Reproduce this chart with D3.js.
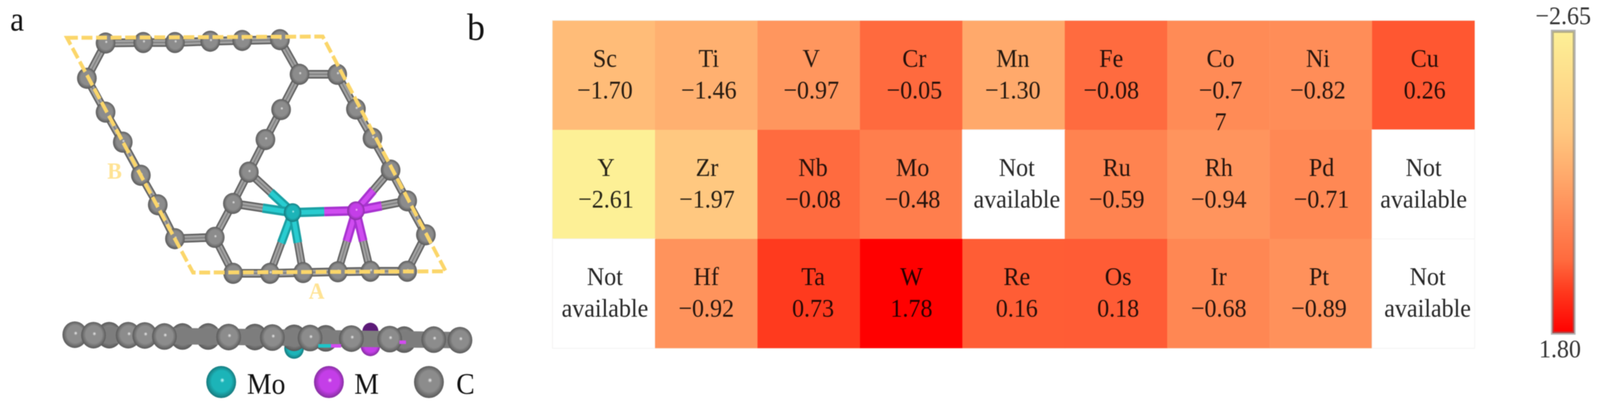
<!DOCTYPE html>
<html>
<head>
<meta charset="utf-8">
<script src="https://cdn.jsdelivr.net/npm/d3@7"></script>
<style>
  html, body { margin: 0; padding: 0; background: #fff; overflow: hidden; }
  svg { display: block; width: 100vw; height: 100vh; filter: blur(1.1px); }
  text { font-family: "Liberation Serif", serif; }
</style>
</head>
<body>
<div id="wrapper"></div>
<script>
// Heatmap data (row by row)
const elements = [
  "Sc", "Ti", "V", "Cr", "Mn", "Fe", "Co", "Ni", "Cu",
  "Y", "Zr", "Nb", "Mo", null, "Ru", "Rh", "Pd", null,
  null, "Hf", "Ta", "W", "Re", "Os", "Ir", "Pt", null
]
const values = [
  -1.70, -1.46, -0.97, -0.05, -1.30, -0.08, -0.77, -0.82, 0.26,
  -2.61, -1.97, -0.08, -0.48, null, -0.59, -0.94, -0.71, null,
  null, -0.92, 0.73, 1.78, 0.16, 0.18, -0.68, -0.89, null
]
const colorTicks = [-2.65, 1.80]

// Structure data in its own 1568 x 1568 units
const carbonX = [350, 475, 580, 697, 803, 928, 993, 1118, 1180, 1235, 1295, 1350, 1412, 1350, 1228, 1120, 1005, 895, 773, 712, 580, 523, 467, 407, 350, 288, 932, 880, 825, 772]
const carbonY = [165, 163, 163, 158, 155, 152, 285, 285, 418, 530, 652, 770, 900, 1040, 1040, 1042, 1045, 1048, 1048, 910, 915, 785, 672, 545, 430, 300, 420, 535, 660, 780]
const carbonBonds = [
  [0, 1], [1, 2], [2, 3], [3, 4], [4, 5], [5, 6], [6, 7], [7, 8], [8, 9], [9, 10], [10, 11], [11, 12], [12, 13],
  [13, 14], [14, 15], [15, 16], [16, 17], [17, 18], [18, 19], [19, 20], [20, 21], [21, 22], [22, 23], [23, 24],
  [24, 25], [25, 0], [6, 26], [26, 27], [27, 28], [28, 29], [29, 19]
]
const metalNames = ["Mo", "M"]
const metalX = [970, 1180]
const metalY = [815, 808]
const moNeighbours = [28, 29, 17, 16]
const mNeighbours = [10, 11, 15, 14]
const latticeX = [222, 1070, 1478, 640]
const latticeY = [145, 140, 1040, 1045]
const latticeLabels = ["B", "A"]
const latticeLabelX = [380, 1050]
const latticeLabelY = [685, 1145]

// Side view
const sideBackX = [362, 605, 690, 845, 975, 1080, 1340]
const sideBackY = [1285, 1290, 1290, 1292, 1295, 1297, 1302]
const sideFrontX = [248, 310, 425, 480, 545, 758, 903, 1028, 1165, 1292, 1438, 1525]
const sideFrontY = [1283, 1285, 1285, 1286, 1290, 1292, 1294, 1296, 1298, 1300, 1302, 1304]
const sideBondStart = [1055, 1097, 1324]
const sideBondEnd = [1097, 1131, 1346]
const sideBondY = [1326, 1326, 1312]
const sideBondColors = ["#1fc4c8", "#d24cf0", "#d24cf0"]

const legendNames = ["Mo", "M", "C"]

async function drawChart() {
  // 1. Dimensions
  // the browser window stops short of the full width, so the drawing is fitted to it through the viewBox
  const width = 4398
  const height = 1046
  const heat = { left: 1519, right: 4053, top: 53, bottom: 890 }
  const bar = { x: 4267, width: 60, top: 80, bottom: 852 }

  const wrapper = d3.select("#wrapper")
    .append("svg")
    .attr("viewBox", `0 0 ${width} ${height}`)
    .attr("preserveAspectRatio", "none")

  const defs = wrapper.append("defs")

  // 2. Scales
  const rampColors = ["#fdf096", "#ffc880", "#ffa96b", "#ff8d58", "#ff6a3e", "#ff3a1e", "#ff0000"]
  const colorScale = d3.scaleLinear()
    .domain([-2.61, -1.97, -1.30, -0.82, -0.05, 0.73, 1.78])
    .range(rampColors)
    .clamp(true)

  const cols = d3.range(9)
  const rows = d3.range(3)
  const xScale = d3.scaleBand().domain(cols).range([heat.left, heat.right])
  const yScale = d3.scaleBand().domain(rows).range([heat.top, heat.bottom])

  const barScale = d3.scaleLinear()
    .domain(colorTicks)
    .range([bar.top, bar.bottom])

  const molX = d3.scaleLinear().domain([0, 1568]).range([0, 1300])
  const molY = d3.scaleLinear().domain([0, 1568]).range([0, 1046])

  // 3. Panel letters
  wrapper.append("text").attr("x", 28).attr("y", 78).attr("font-size", 86).attr("fill", "#111").text("a")
  wrapper.append("text").attr("x", 1284).attr("y", 102).attr("font-size", 98).attr("fill", "#111").text("b")

  // 4. Heatmap
  const cellData = elements.map((el, i) => ({
    el,
    value: values[i],
    col: i % 9,
    row: Math.floor(i / 9)
  }))

  wrapper.append("rect")
    .attr("x", heat.left)
    .attr("y", heat.top)
    .attr("width", heat.right - heat.left)
    .attr("height", heat.bottom - heat.top)
    .attr("fill", "none")
    .attr("stroke", "#f1efe8")
    .attr("stroke-width", 3)

  wrapper.append("g").selectAll("rect")
    .data(cellData)
    .join("rect")
      .attr("x", d => xScale(d.col))
      .attr("y", d => yScale(d.row))
      .attr("width", xScale.bandwidth() + 0.5)
      .attr("height", yScale.bandwidth() + 0.5)
      .attr("fill", d => d.value === null ? "#fff" : colorScale(d.value))
      .attr("stroke", d => d.value === null ? "#f4f4f4" : "none")
      .attr("stroke-width", 2)

  // small offsets of the hand-placed labels, row by row
  const labelNudge = [
    3, 7, 7, 9, -2, -13, 6, -8, 4,
    6, 2, 12, 4, 9, 2, 1, 2, 1,
    3, 0, 12, 1, 9, 6, 1, -5, 12
  ]
  const formatValue = v => (v < 0 ? "\u2212" : "") + Math.abs(v).toFixed(2)

  const labels = wrapper.append("g")
    .attr("text-anchor", "middle")
    .attr("font-size", 66)
    .attr("fill", "#262626")
    .style("mix-blend-mode", "multiply")

  cellData.forEach((d, i) => {
    const cx = xScale(d.col) + xScale.bandwidth() / 2 + labelNudge[i]
    const cy = yScale(d.row) + yScale.bandwidth() / 2
    const lines = d.value === null
      ? ["Not", "available"]
      : formatValue(d.value) === "\u22120.77"
        ? [d.el, "\u22120.7", "7"]
        : [d.el, formatValue(d.value)]
    lines.forEach((line, k) => {
      labels.append("text")
        .attr("x", cx)
        .attr("y", cy - 21 + k * 81)
        .text(line)
    })
  })

  // 5. Colour bar
  const barOffsets = [0, 0.33, 0.48, 0.6, 0.76, 0.86, 1]
  const barGradient = defs.append("linearGradient")
    .attr("id", "barGradient")
    .attr("x1", 0).attr("x2", 0).attr("y1", 0).attr("y2", 1)
  barGradient.selectAll("stop")
    .data(barOffsets)
    .join("stop")
      .attr("offset", d => d)
      .attr("stop-color", (d, i) => rampColors[i])

  wrapper.append("rect")
    .attr("x", bar.x)
    .attr("y", barScale(colorTicks[0]))
    .attr("width", bar.width)
    .attr("height", barScale(colorTicks[1]) - barScale(colorTicks[0]))
    .attr("fill", "url(#barGradient)")
    .attr("stroke", "#777")
    .attr("stroke-opacity", 0.55)
    .attr("stroke-width", 8)

  wrapper.append("g").selectAll("text")
    .data(colorTicks)
    .join("text")
      .attr("x", (d, i) => i === 0 ? 4297 : 4288)
      .attr("y", (d, i) => barScale(d) + (i === 0 ? -18 : 62))
      .attr("text-anchor", "middle")
      .attr("font-size", 66)
      .attr("fill", "#333")
      .text(d => formatValue(d))

  // 6. Sphere gradients
  const sphereStyles = [
    { id: "sphereC", light: "#f2f2f2", mid: "#8c8c8c", dark: "#4c4c4c" },
    { id: "sphereBack", light: "#8a8a8a", mid: "#808080", dark: "#4c4c4c" },
    { id: "sphereMo", light: "#d8ffff", mid: "#1cb4b8", dark: "#14686c" },
    { id: "sphereM", light: "#ffd0ff", mid: "#c43ee8", dark: "#74298c" }
  ]
  sphereStyles.forEach(s => {
    const g = defs.append("radialGradient")
      .attr("id", s.id)
      .attr("cx", 0.5).attr("cy", 0.5).attr("r", 0.55)
      .attr("fx", 0.54).attr("fy", 0.44)
    g.append("stop").attr("offset", 0).attr("stop-color", s.light)
    g.append("stop").attr("offset", 0.14).attr("stop-color", s.mid)
    g.append("stop").attr("offset", 0.6).attr("stop-color", s.mid)
    g.append("stop").attr("offset", 1).attr("stop-color", s.dark)
  })

  // 7. Top view of the structure
  const mol = wrapper.append("g")
  const carbons = carbonX.map((x, i) => ({ x: molX(x), y: molY(carbonY[i]) }))
  const metals = metalX.map((x, i) => ({ name: metalNames[i], x: molX(x), y: molY(metalY[i]) }))

  const bondLayers = [
    { stroke: "#5f5f5f", w: 22 },
    { stroke: "#a2a2a2", w: 14 },
    { stroke: "#7c7c7c", w: 3 }
  ]
  const drawBond = (a, b, layers) => {
    layers.forEach(l => {
      mol.append("line")
        .attr("x1", a.x).attr("y1", a.y)
        .attr("x2", b.x).attr("y2", b.y)
        .attr("stroke", l.stroke)
        .attr("stroke-width", l.w)
    })
  }
  carbonBonds.forEach(([i, j]) => drawBond(carbons[i], carbons[j], bondLayers))

  const metalLayers = {
    Mo: [{ stroke: "#1aa0a4", w: 24 }, { stroke: "#28ccd0", w: 12 }],
    M: [{ stroke: "#a832d0", w: 24 }, { stroke: "#cf4cf0", w: 12 }]
  }
  const midpoint = (a, b) => ({ x: (a.x + b.x) / 2, y: (a.y + b.y) / 2 })
  const metalBond = (metal, other) => {
    const mid = midpoint(metal, other)
    drawBond(mid, other, bondLayers)
    drawBond(metal, mid, metalLayers[metal.name])
  }
  moNeighbours.forEach(i => metalBond(metals[0], carbons[i]))
  mNeighbours.forEach(i => metalBond(metals[1], carbons[i]))
  drawBond(metals[0], midpoint(metals[0], metals[1]), metalLayers.Mo)
  drawBond(metals[1], midpoint(metals[0], metals[1]), metalLayers.M)

  mol.selectAll("circle.carbon")
    .data(carbons)
    .join("circle")
      .attr("class", "carbon")
      .attr("cx", d => d.x)
      .attr("cy", d => d.y)
      .attr("r", 27)
      .attr("fill", "url(#sphereC)")

  mol.selectAll("circle.metal")
    .data(metals)
    .join("circle")
      .attr("class", "metal")
      .attr("cx", d => d.x)
      .attr("cy", d => d.y)
      .attr("r", 24)
      .attr("fill", d => `url(#sphere${d.name})`)

  // 8. Lattice
  wrapper.append("path")
    .attr("d", d3.line().curve(d3.curveLinearClosed)(latticeX.map((x, i) => [molX(x), molY(latticeY[i])])))
    .attr("fill", "none")
    .attr("stroke", "#fbd66a")
    .attr("stroke-width", 10)
    .attr("stroke-dasharray", "30 10")

  wrapper.append("g").selectAll("text")
    .data(latticeLabels)
    .join("text")
      .attr("x", (d, i) => molX(latticeLabelX[i]))
      .attr("y", (d, i) => molY(latticeLabelY[i]))
      .attr("text-anchor", "middle")
      .attr("font-size", 60)
      .attr("font-weight", "bold")
      .attr("fill", "#ffe394")
      .text(d => d)

  // 9. Side view
  const side = wrapper.append("g")
  const sideAtom = (x, y, r, fill) => side.append("circle")
    .attr("cx", molX(x))
    .attr("cy", molY(y))
    .attr("r", r)
    .attr("fill", fill)

  // metal atoms sit below the carbon sheet
  sideAtom(975, 1335, 27, "url(#sphereMo)")
  sideAtom(1228, 1325, 27, "url(#sphereM)")
  sideAtom(1228, 1270, 22, "#5c1a78")

  sideBackX.forEach((x, i) => sideAtom(x, sideBackY[i], 34, "url(#sphereBack)"))

  side.append("line")
    .attr("x1", molX(sideFrontX[0]))
    .attr("y1", molY(sideFrontY[0]))
    .attr("x2", molX(sideFrontX[sideFrontX.length - 1]))
    .attr("y2", molY(sideFrontY[sideFrontY.length - 1]))
    .attr("stroke", "#7d7d7d")
    .attr("stroke-width", 42)

  sideFrontX.forEach((x, i) => sideAtom(x, sideFrontY[i], 34, "url(#sphereC)"))

  side.selectAll("line.metalBond")
    .data(sideBondStart)
    .join("line")
      .attr("class", "metalBond")
      .attr("x1", d => molX(d))
      .attr("x2", (d, i) => molX(sideBondEnd[i]))
      .attr("y1", (d, i) => molY(sideBondY[i]))
      .attr("y2", (d, i) => molY(sideBondY[i]))
      .attr("stroke", (d, i) => sideBondColors[i])
      .attr("stroke-width", 9)

  // 10. Legend
  const legendFill = { Mo: "url(#sphereMo)", M: "url(#sphereM)", C: "url(#sphereC)" }
  const legendTextX = { Mo: 679, M: 974, C: 1254 }
  const legendAtomX = { Mo: 608, M: 904, C: 1179 }

  wrapper.append("g").selectAll("circle")
    .data(legendNames)
    .join("circle")
      .attr("cx", d => legendAtomX[d])
      .attr("cy", 977)
      .attr("r", 41)
      .attr("fill", d => legendFill[d])

  wrapper.append("g").selectAll("text")
    .data(legendNames)
    .join("text")
      .attr("x", d => legendTextX[d])
      .attr("y", 1007)
      .attr("font-size", 76)
      .attr("fill", "#111")
      .text(d => d)
}

drawChart()
</script>
</body>
</html>
